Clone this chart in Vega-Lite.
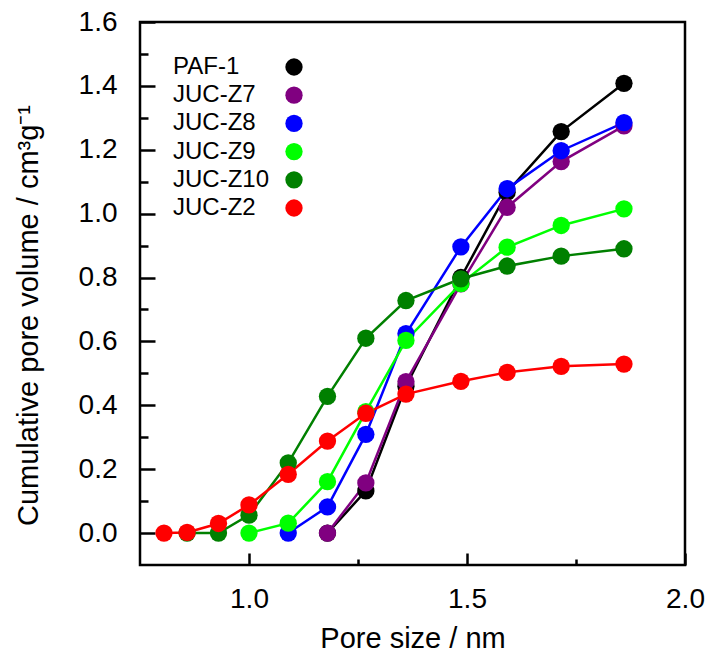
{
  "$schema": "https://vega.github.io/schema/vega-lite/v6.json",
  "width": 545,
  "height": 543,
  "autosize": {"type": "none"},
  "padding": {"left": 140, "top": 22, "right": 23, "bottom": 88},
  "background": "white",
  "config": {
    "view": {"stroke": "black", "strokeWidth": 2.5},
    "font": "Liberation Sans",
    "axis": {"labelFont": "Liberation Sans", "titleFont": "Liberation Sans", "labelColor": "black", "titleColor": "black", "tickColor": "black", "tickWidth": 2.5, "grid": false, "domain": false, "titleFontWeight": "normal", "labelFontSize": 28, "titleFontSize": 29}
  },
  "data": {
    "values": [
      {"s": "PAF-1", "x": 1.18, "y": 0},
      {"s": "PAF-1", "x": 1.268, "y": 0.132},
      {"s": "PAF-1", "x": 1.36, "y": 0.46},
      {"s": "PAF-1", "x": 1.486, "y": 0.8},
      {"s": "PAF-1", "x": 1.592, "y": 1.067},
      {"s": "PAF-1", "x": 1.716, "y": 1.257},
      {"s": "PAF-1", "x": 1.86, "y": 1.408},
      {"s": "JUC-Z7", "x": 1.18, "y": 0},
      {"s": "JUC-Z7", "x": 1.268, "y": 0.157},
      {"s": "JUC-Z7", "x": 1.36, "y": 0.474},
      {"s": "JUC-Z7", "x": 1.486, "y": 0.78},
      {"s": "JUC-Z7", "x": 1.592, "y": 1.02},
      {"s": "JUC-Z7", "x": 1.716, "y": 1.163},
      {"s": "JUC-Z7", "x": 1.86, "y": 1.275},
      {"s": "JUC-Z8", "x": 1.09, "y": 0},
      {"s": "JUC-Z8", "x": 1.18, "y": 0.082},
      {"s": "JUC-Z8", "x": 1.268, "y": 0.309},
      {"s": "JUC-Z8", "x": 1.36, "y": 0.624},
      {"s": "JUC-Z8", "x": 1.486, "y": 0.896},
      {"s": "JUC-Z8", "x": 1.592, "y": 1.078},
      {"s": "JUC-Z8", "x": 1.716, "y": 1.197},
      {"s": "JUC-Z8", "x": 1.86, "y": 1.285},
      {"s": "JUC-Z9", "x": 1.0, "y": 0},
      {"s": "JUC-Z9", "x": 1.09, "y": 0.031},
      {"s": "JUC-Z9", "x": 1.18, "y": 0.161},
      {"s": "JUC-Z9", "x": 1.268, "y": 0.38},
      {"s": "JUC-Z9", "x": 1.36, "y": 0.603},
      {"s": "JUC-Z9", "x": 1.486, "y": 0.781},
      {"s": "JUC-Z9", "x": 1.592, "y": 0.895},
      {"s": "JUC-Z9", "x": 1.716, "y": 0.963},
      {"s": "JUC-Z9", "x": 1.86, "y": 1.015},
      {"s": "JUC-Z10", "x": 0.858, "y": 0},
      {"s": "JUC-Z10", "x": 0.93, "y": 0},
      {"s": "JUC-Z10", "x": 1.0, "y": 0.056},
      {"s": "JUC-Z10", "x": 1.09, "y": 0.22},
      {"s": "JUC-Z10", "x": 1.18, "y": 0.428},
      {"s": "JUC-Z10", "x": 1.268, "y": 0.61},
      {"s": "JUC-Z10", "x": 1.36, "y": 0.728},
      {"s": "JUC-Z10", "x": 1.486, "y": 0.796},
      {"s": "JUC-Z10", "x": 1.592, "y": 0.836},
      {"s": "JUC-Z10", "x": 1.716, "y": 0.867},
      {"s": "JUC-Z10", "x": 1.86, "y": 0.89},
      {"s": "JUC-Z2", "x": 0.805, "y": 0},
      {"s": "JUC-Z2", "x": 0.858, "y": 0.002},
      {"s": "JUC-Z2", "x": 0.93, "y": 0.03},
      {"s": "JUC-Z2", "x": 1.0, "y": 0.088},
      {"s": "JUC-Z2", "x": 1.09, "y": 0.184},
      {"s": "JUC-Z2", "x": 1.18, "y": 0.288},
      {"s": "JUC-Z2", "x": 1.268, "y": 0.375},
      {"s": "JUC-Z2", "x": 1.36, "y": 0.435},
      {"s": "JUC-Z2", "x": 1.486, "y": 0.475},
      {"s": "JUC-Z2", "x": 1.592, "y": 0.503},
      {"s": "JUC-Z2", "x": 1.716, "y": 0.522},
      {"s": "JUC-Z2", "x": 1.86, "y": 0.529}
    ]
  },
  "encoding": {
    "x": {
      "field": "x", "type": "quantitative",
      "scale": {"domain": [0.75, 2.0], "nice": false, "zero": false},
      "axis": {
        "title": "Pore size / nm",
        "values": [1.0, 1.25, 1.5, 1.75, 2.0],
        "tickSize": {"condition": {"test": "datum.value % 0.5 === 0", "value": -12}, "value": -6},
        "labelExpr": "datum.value % 0.5 === 0 ? format(datum.value, '.1f') : ''",
        "labelPadding": 32,
        "labelFlush": false,
        "titleBaseline": "top",
        "titleY": 59
      }
    },
    "y": {
      "field": "y", "type": "quantitative",
      "scale": {"domain": [-0.1, 1.6], "nice": false, "zero": false},
      "axis": {
        "title": "Cumulative pore volume / cm³g⁻¹",
        "values": [0, 0.1, 0.2, 0.3, 0.4, 0.5, 0.6, 0.7, 0.8, 0.9, 1.0, 1.1, 1.2, 1.3, 1.4, 1.5, 1.6],
        "tickSize": {"condition": {"test": "round(datum.value * 10) % 2 === 0", "value": -15}, "value": -8},
        "labelExpr": "round(datum.value * 10) % 2 === 0 ? format(datum.value, '.1f') : ''",
        "labelPadding": 38,
        "labelFlush": false,
        "titleBaseline": "middle",
        "titleAngle": -90,
        "titleX": -112,
        "titleY": 293
      }
    },
    "color": {
      "field": "s", "type": "nominal",
      "scale": {"domain": ["PAF-1", "JUC-Z7", "JUC-Z8", "JUC-Z9", "JUC-Z10", "JUC-Z2"], "range": ["#000000", "#800080", "#0000ff", "#00ff00", "#008000", "#ff0000"]},
      "legend": {
        "orient": "none", "legendX": 142, "legendY": 33, "title": null,
        "labelFont": "Liberation Sans", "labelFontSize": 24, "labelColor": "black", "labelLimit": 0,
        "symbolType": "circle", "symbolSize": 300, "symbolOpacity": 1, "symbolStrokeWidth": 0,
        "labelOffset": -133, "rowPadding": 4.2, "padding": 0
      }
    }
  },
  "layer": [
    {
      "mark": {"type": "line", "strokeWidth": 2.5}
    },
    {
      "mark": {"type": "point", "filled": true, "size": 300, "opacity": 1, "shape": "circle"}
    }
  ]
}
